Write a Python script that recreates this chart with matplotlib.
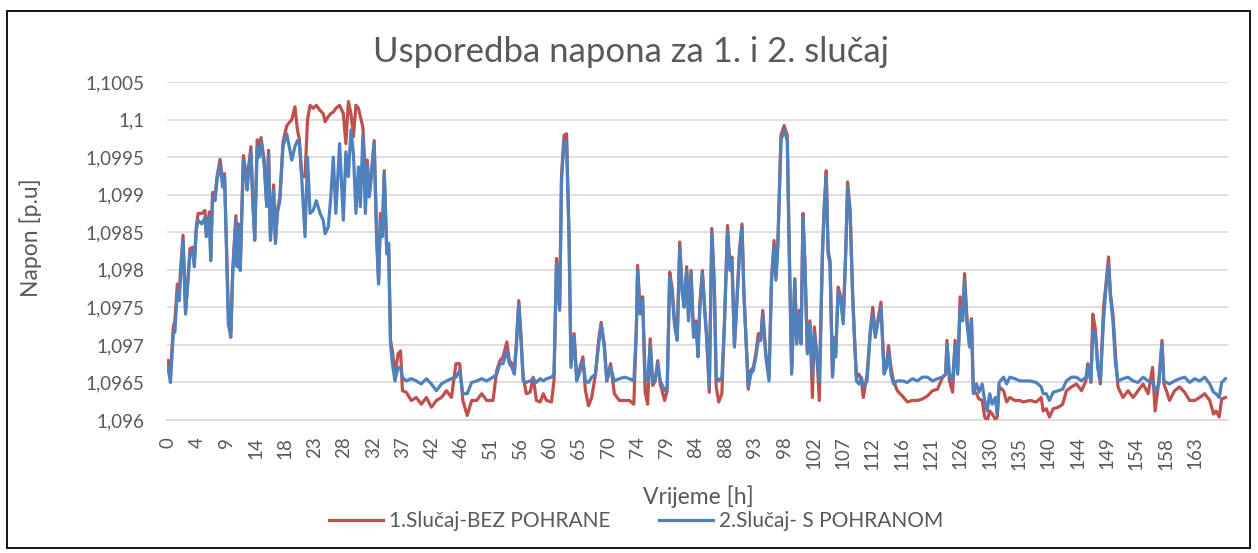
import numpy as np
import matplotlib
matplotlib.use('Agg')
import matplotlib.pyplot as plt
from matplotlib.patches import Rectangle

plt.rcParams['font.family'] = ['Lato', 'DejaVu Sans']

# vrijeme [h] i napon [p.u] ocitano s grafa
vrijeme_h = [
    0.0, 0.4, 0.85, 1.1, 1.5, 1.8, 2.0, 2.4, 2.8, 3.2,
    3.5, 3.9, 4.2, 4.5, 4.8, 5.4, 5.9, 6.1, 6.6, 6.8,
    7.1, 7.5, 7.8, 8.3, 8.7, 9.0, 9.3, 9.6, 10.0, 10.3,
    10.8, 11.0, 11.2, 11.5, 12.0, 12.3, 12.6, 12.8, 13.2, 13.5,
    13.8, 14.2, 14.5, 14.8, 15.3, 15.7, 16.0, 16.3, 16.8, 17.1,
    17.4, 17.8, 18.3, 18.9, 19.7, 20.2, 20.6, 20.9, 21.3, 21.8,
    22.2, 22.6, 23.1, 23.6, 24.2, 24.7, 25.0, 25.5, 25.9, 26.3,
    26.7, 27.3, 27.9, 28.3, 28.7, 29.1, 29.5, 29.9, 30.3, 30.6,
    31.0, 31.4, 31.7, 32.0, 32.3, 32.8, 33.2, 33.5, 33.8, 34.1,
    34.4, 34.8, 35.1, 35.4, 35.7, 36.1, 36.6, 37.0, 37.3, 37.9,
    38.7, 39.5, 40.3, 41.1, 41.9, 42.7, 43.5, 44.3, 45.1, 45.8,
    46.4, 46.9, 47.6, 48.3, 49.1, 49.9, 50.7, 51.7, 52.3, 52.8,
    53.3, 53.9, 54.3, 54.7, 55.1, 55.4, 55.8, 56.1, 56.5, 57.0,
    57.6, 58.1, 58.6, 59.2, 59.7, 60.2, 61.0, 61.4, 61.8, 62.3,
    62.6, 63.0, 63.4, 63.8, 64.1, 64.6, 65.0, 65.4, 66.0, 66.4,
    66.9, 67.4, 68.0, 68.5, 68.9, 69.4, 69.8, 70.4, 71.0, 71.8,
    72.6, 73.4, 74.1, 74.5, 74.7, 75.1, 75.5, 75.9, 76.3, 76.7,
    77.1, 77.5, 77.9, 78.3, 79.0, 79.4, 79.8, 80.2, 80.6, 81.0,
    81.4, 81.8, 82.1, 82.5, 82.8, 83.2, 83.6, 84.0, 84.3, 84.6,
    85.0, 85.4, 85.7, 86.1, 86.5, 86.9, 87.2, 87.6, 88.1, 88.5,
    89.0, 89.4, 89.7, 90.1, 90.4, 90.9, 91.3, 91.6, 92.3, 92.7,
    93.1, 93.5, 93.9, 94.3, 94.6, 95.1, 95.6, 96.0, 96.4, 96.7,
    97.0, 97.5, 98.0, 98.5, 98.8, 99.2, 99.7, 100.0, 100.4, 100.7,
    101.0, 101.3, 101.7, 102.1, 102.5, 102.8, 103.2, 103.6, 104.1, 104.4,
    104.7, 105.0, 105.3, 105.7, 106.0, 106.2, 106.6, 107.0, 107.4, 107.8,
    108.1, 108.5, 108.9, 109.2, 109.5, 109.9, 110.3, 110.6, 111.2, 111.7,
    112.1, 112.5, 112.8, 113.4, 113.9, 114.3, 114.6, 115.0, 115.4, 116.0,
    116.8, 117.6, 118.4, 119.2, 120.0, 120.8, 121.6, 122.4, 123.2, 123.7,
    123.9, 124.3, 124.8, 125.2, 125.6, 126.0, 126.4, 126.7, 127.1, 127.5,
    127.8, 128.1, 128.6, 129.0, 129.5, 129.9, 130.3, 130.7, 131.1, 131.6,
    131.9, 132.2, 132.9, 133.4, 133.9, 134.7, 135.5, 136.0, 137.1, 138.1,
    138.9, 139.2, 139.7, 140.2, 140.8, 141.6, 142.3, 142.9, 143.7, 144.5,
    145.3, 146.0, 146.3, 146.8, 147.1, 147.5, 147.9, 148.3, 148.8, 149.2,
    149.6, 149.9, 150.3, 150.7, 151.1, 151.9, 152.7, 153.5, 154.3, 155.1,
    155.9, 156.6, 157.0, 157.6, 158.1, 158.4, 158.8, 159.3, 160.1, 160.9,
    161.7, 162.5, 163.3, 164.1, 164.9, 165.7, 166.3, 166.7, 167.2, 167.6,
    168.2,
]

# 1. slucaj - bez pohrane
napon_bez = [
    1.09679, 1.09661, 1.09724, 1.09732, 1.09781, 1.09768, 1.09799, 1.09846, 1.09746, 1.09790,
    1.09828, 1.09830, 1.09810, 1.09857, 1.09875, 1.09875, 1.09879, 1.09848, 1.09877, 1.09817,
    1.09903, 1.09899, 1.09924, 1.09947, 1.09917, 1.09928, 1.09835, 1.09746, 1.09715, 1.09799,
    1.09872, 1.09808, 1.09861, 1.09804, 1.09952, 1.09935, 1.09910, 1.09935, 1.09964, 1.09892,
    1.09844, 1.09973, 1.09959, 1.09976, 1.09946, 1.09888, 1.09959, 1.09844, 1.09913, 1.09839,
    1.09879, 1.09897, 1.09970, 1.09992, 1.10000, 1.10017, 1.09986, 1.09974, 1.09924, 1.09924,
    1.10000, 1.10019, 1.10015, 1.10019, 1.10012, 1.10008, 1.09997, 1.10004, 1.10008, 1.10010,
    1.10015, 1.10019, 1.10008, 1.09968, 1.10024, 1.10008, 1.09977, 1.10019, 1.10015, 1.10004,
    1.09990, 1.09928, 1.09946, 1.09901, 1.09924, 1.09972, 1.09844, 1.09786, 1.09875, 1.09848,
    1.09932, 1.09830, 1.09835, 1.09706, 1.09692, 1.09661, 1.09688, 1.09692, 1.09639, 1.09637,
    1.09626, 1.09630, 1.09621, 1.09630, 1.09617, 1.09626, 1.09630, 1.09639, 1.09630, 1.09675,
    1.09675, 1.09626, 1.09606, 1.09626, 1.09626, 1.09635, 1.09626, 1.09626, 1.09666, 1.09679,
    1.09684, 1.09704, 1.09679, 1.09675, 1.09666, 1.09701, 1.09759, 1.09719, 1.09657, 1.09635,
    1.09637, 1.09657, 1.09626, 1.09624, 1.09635, 1.09626, 1.09624, 1.09652, 1.09815, 1.09750,
    1.09926, 1.09979, 1.09981, 1.09844, 1.09675, 1.09715, 1.09657, 1.09666, 1.09684, 1.09639,
    1.09619, 1.09630, 1.09661, 1.09706, 1.09730, 1.09701, 1.09652, 1.09675, 1.09635, 1.09626,
    1.09626, 1.09626, 1.09621, 1.09724, 1.09806, 1.09746, 1.09764, 1.09637, 1.09621, 1.09708,
    1.09646, 1.09652, 1.09679, 1.09648, 1.09626, 1.09639, 1.09797, 1.09775, 1.09728, 1.09710,
    1.09837, 1.09772, 1.09755, 1.09804, 1.09737, 1.09799, 1.09715, 1.09732, 1.09688, 1.09755,
    1.09799, 1.09746, 1.09710, 1.09637, 1.09855, 1.09781, 1.09644, 1.09624, 1.09635, 1.09728,
    1.09859, 1.09804, 1.09817, 1.09701, 1.09746, 1.09826, 1.09861, 1.09772, 1.09641, 1.09666,
    1.09670, 1.09688, 1.09715, 1.09710, 1.09746, 1.09688, 1.09657, 1.09788, 1.09839, 1.09790,
    1.09835, 1.09979, 1.09992, 1.09979, 1.09835, 1.09666, 1.09788, 1.09706, 1.09746, 1.09706,
    1.09875, 1.09812, 1.09692, 1.09732, 1.09630, 1.09724, 1.09688, 1.09626, 1.09826, 1.09888,
    1.09932, 1.09826, 1.09812, 1.09661, 1.09710, 1.09688, 1.09777, 1.09764, 1.09732, 1.09826,
    1.09917, 1.09879, 1.09768, 1.09710, 1.09657, 1.09661, 1.09652, 1.09630, 1.09661, 1.09719,
    1.09750, 1.09715, 1.09728, 1.09757, 1.09666, 1.09675, 1.09699, 1.09670, 1.09652, 1.09639,
    1.09632, 1.09624, 1.09626, 1.09626, 1.09628, 1.09632, 1.09639, 1.09641, 1.09657, 1.09661,
    1.09706, 1.09652, 1.09637, 1.09706, 1.09666, 1.09764, 1.09737, 1.09795, 1.09732, 1.09701,
    1.09735, 1.09639, 1.09635, 1.09628, 1.09626, 1.09604, 1.09599, 1.09612, 1.09608, 1.09601,
    1.09604, 1.09644, 1.09639, 1.09624, 1.09630, 1.09626, 1.09626, 1.09624, 1.09626, 1.09624,
    1.09630, 1.09612, 1.09615, 1.09604, 1.09615, 1.09617, 1.09621, 1.09639, 1.09644, 1.09648,
    1.09639, 1.09652, 1.09675, 1.09650, 1.09741, 1.09721, 1.09670, 1.09648, 1.09750, 1.09781,
    1.09817, 1.09768, 1.09741, 1.09688, 1.09644, 1.09630, 1.09639, 1.09630, 1.09639, 1.09648,
    1.09635, 1.09670, 1.09612, 1.09652, 1.09706, 1.09648, 1.09639, 1.09626, 1.09639, 1.09644,
    1.09637, 1.09626, 1.09626, 1.09630, 1.09635, 1.09626, 1.09608, 1.09612, 1.09604, 1.09628,
    1.09630,
]

# 2. slucaj - s pohranom
napon_s = [
    1.09670, 1.09650, 1.09715, 1.09717, 1.09772, 1.09759, 1.09790, 1.09839, 1.09741, 1.09786,
    1.09821, 1.09826, 1.09804, 1.09852, 1.09866, 1.09861, 1.09870, 1.09844, 1.09870, 1.09812,
    1.09897, 1.09892, 1.09919, 1.09941, 1.09910, 1.09924, 1.09830, 1.09728, 1.09710, 1.09795,
    1.09866, 1.09804, 1.09857, 1.09799, 1.09946, 1.09928, 1.09906, 1.09928, 1.09957, 1.09888,
    1.09839, 1.09964, 1.09950, 1.09970, 1.09941, 1.09884, 1.09955, 1.09839, 1.09906, 1.09835,
    1.09875, 1.09892, 1.09964, 1.09981, 1.09946, 1.09964, 1.09972, 1.09968, 1.09919, 1.09844,
    1.09950, 1.09875, 1.09879, 1.09892, 1.09875, 1.09866, 1.09848, 1.09857, 1.09897, 1.09950,
    1.09875, 1.09968, 1.09866, 1.09957, 1.09924, 1.09986, 1.09955, 1.09875, 1.09937, 1.09884,
    1.09979, 1.09875, 1.09941, 1.09897, 1.09919, 1.09968, 1.09839, 1.09781, 1.09866, 1.09844,
    1.09928, 1.09821, 1.09835, 1.09701, 1.09675, 1.09652, 1.09670, 1.09670, 1.09657, 1.09652,
    1.09655, 1.09652, 1.09648, 1.09655, 1.09648, 1.09639, 1.09648, 1.09652, 1.09655, 1.09657,
    1.09666, 1.09635, 1.09635, 1.09650, 1.09652, 1.09655, 1.09652, 1.09657, 1.09661, 1.09675,
    1.09675, 1.09692, 1.09675, 1.09670, 1.09661, 1.09697, 1.09755, 1.09715, 1.09652, 1.09650,
    1.09652, 1.09655, 1.09650, 1.09655, 1.09652, 1.09655, 1.09657, 1.09661, 1.09808, 1.09746,
    1.09919, 1.09972, 1.09968, 1.09839, 1.09670, 1.09710, 1.09652, 1.09661, 1.09679, 1.09652,
    1.09650, 1.09657, 1.09661, 1.09701, 1.09726, 1.09697, 1.09652, 1.09670, 1.09652, 1.09655,
    1.09657, 1.09655, 1.09652, 1.09719, 1.09799, 1.09741, 1.09759, 1.09657, 1.09652, 1.09701,
    1.09650, 1.09655, 1.09675, 1.09652, 1.09639, 1.09644, 1.09790, 1.09768, 1.09724, 1.09706,
    1.09830, 1.09768, 1.09750, 1.09799, 1.09732, 1.09795, 1.09710, 1.09728, 1.09684, 1.09750,
    1.09795, 1.09741, 1.09706, 1.09644, 1.09848, 1.09777, 1.09657, 1.09652, 1.09657, 1.09724,
    1.09852, 1.09799, 1.09812, 1.09697, 1.09741, 1.09821, 1.09857, 1.09768, 1.09644, 1.09661,
    1.09666, 1.09684, 1.09706, 1.09706, 1.09741, 1.09684, 1.09652, 1.09786, 1.09830, 1.09786,
    1.09830, 1.09972, 1.09986, 1.09972, 1.09830, 1.09661, 1.09786, 1.09701, 1.09741, 1.09701,
    1.09870, 1.09808, 1.09688, 1.09728, 1.09661, 1.09715, 1.09684, 1.09652, 1.09821, 1.09884,
    1.09924, 1.09821, 1.09808, 1.09657, 1.09706, 1.09684, 1.09772, 1.09759, 1.09728, 1.09821,
    1.09910, 1.09875, 1.09764, 1.09706, 1.09652, 1.09648, 1.09657, 1.09644, 1.09652, 1.09715,
    1.09741, 1.09710, 1.09724, 1.09750, 1.09661, 1.09670, 1.09692, 1.09661, 1.09648, 1.09652,
    1.09652, 1.09650, 1.09655, 1.09652, 1.09657, 1.09657, 1.09652, 1.09655, 1.09657, 1.09661,
    1.09701, 1.09661, 1.09652, 1.09701, 1.09661, 1.09750, 1.09732, 1.09786, 1.09728, 1.09697,
    1.09732, 1.09635, 1.09648, 1.09637, 1.09648, 1.09626, 1.09612, 1.09635, 1.09621, 1.09630,
    1.09608, 1.09650, 1.09657, 1.09648, 1.09657, 1.09655, 1.09652, 1.09652, 1.09652, 1.09650,
    1.09644, 1.09635, 1.09635, 1.09626, 1.09637, 1.09639, 1.09641, 1.09652, 1.09657, 1.09657,
    1.09652, 1.09657, 1.09670, 1.09652, 1.09719, 1.09715, 1.09670, 1.09652, 1.09732, 1.09777,
    1.09808, 1.09764, 1.09732, 1.09675, 1.09652, 1.09655, 1.09657, 1.09652, 1.09650, 1.09657,
    1.09652, 1.09652, 1.09637, 1.09648, 1.09701, 1.09652, 1.09650, 1.09648, 1.09652, 1.09655,
    1.09657, 1.09650, 1.09655, 1.09652, 1.09657, 1.09648, 1.09637, 1.09635, 1.09630, 1.09650,
    1.09655,
]

x_oznake = ['0', '4', '9', '14', '18', '23', '28', '32', '37', '42', '46', '51',
            '56', '60', '65', '70', '74', '79', '84', '88', '93', '98', '102', '107',
            '112', '116', '121', '126', '130', '135', '140', '144', '149', '154', '158', '163']
y_oznake = ['1,096', '1,0965', '1,097', '1,0975', '1,098', '1,0985',
            '1,099', '1,0995', '1,1', '1,1005']

assert len(vrijeme_h) == len(napon_bez) == len(napon_s)

txt = '#595959'
fig = plt.figure(figsize=(12.58, 5.53), dpi=100)
ax = fig.add_axes([167 / 1258, 1 - 420 / 553, (1228 - 167) / 1258, (420 - 82) / 553])

ax.plot(vrijeme_h, napon_bez, color='#C0504D', lw=2.3, label='1.Slučaj-BEZ POHRANE', zorder=3)
ax.plot(vrijeme_h, napon_s, color='#4F81BD', lw=2.3, label='2.Slučaj- S POHRANOM', zorder=4)

ax.set_xlim(-0.15, 168.6)
ax.set_ylim(1.096, 1.1005)
y_ticks = 1.096 + 0.0005 * np.arange(len(y_oznake))
ax.set_yticks(y_ticks)
ax.set_yticklabels(y_oznake)
x_ticks = np.arange(len(x_oznake)) * 14 / 3
ax.set_xticks(x_ticks)
ax.set_xticklabels(x_oznake, rotation=90)
ax.tick_params(axis='both', length=0, colors=txt, labelsize=13.5)
ax.tick_params(axis='y', pad=16)
ax.tick_params(axis='x', pad=12)
ax.grid(axis='y', color='#D9D9D9', lw=1.2)
for s in ['top', 'right', 'left']:
    ax.spines[s].set_visible(False)
ax.spines['bottom'].set_color('#D9D9D9')
ax.spines['bottom'].set_linewidth(1.2)
ax.set_axisbelow(True)

fig.text(631 / 1258, 1 - 62 / 553, 'Usporedba napona za 1. i 2. slučaj', ha='center', va='baseline',
         fontsize=25, color=txt)
fig.text(698 / 1258, 1 - 497 / 553, 'Vrijeme [h]', ha='center', va='center', fontsize=16.5, color=txt)
fig.text(31 / 1258, 1 - 238 / 553, 'Napon [p.u]', ha='center', va='center', rotation=90,
         fontsize=16.5, color=txt)

leg = fig.legend(loc='center', bbox_to_anchor=(636 / 1258, 1 - 521 / 553), ncol=2, frameon=False,
                 fontsize=15, handlelength=2.6, handletextpad=0.3, columnspacing=2.3)
for t in leg.get_texts():
    t.set_color(txt)

fig.add_artist(Rectangle((7 / 1258, 5 / 553), 1243 / 1258, 537 / 553, transform=fig.transFigure,
                         fill=False, edgecolor='black', lw=1.3))

fig.savefig('out.png', dpi=100)
